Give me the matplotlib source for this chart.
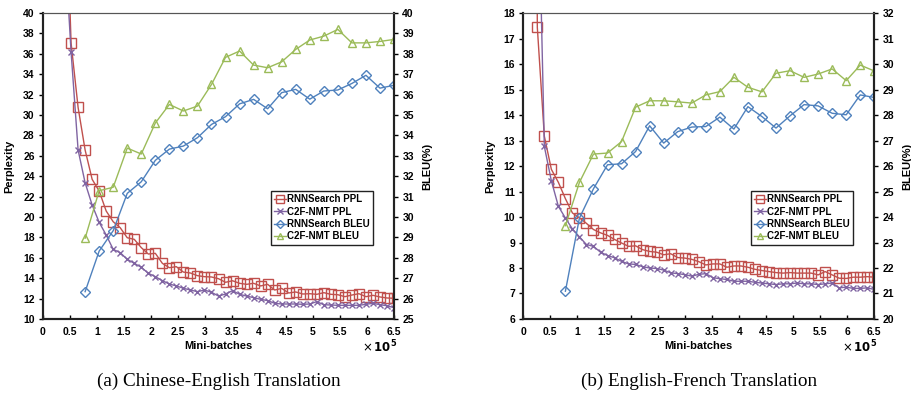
import numpy as np
import matplotlib
matplotlib.use("Agg")
import matplotlib.pyplot as plt

plt.rcParams["font.family"] = ["Liberation Sans", "DejaVu Sans"]

# checkpoints: one every 13k mini-batches (0.13 x 10^5)
step = 0.13
zh_ppl_k = list(range(3, 51))
en_ppl_k = list(range(1, 51))
bleu_k = list(range(6, 51, 2))

# (a) Chinese-English
zh_rnn_ppl = [58, 37.06, 30.75, 26.57, 23.7, 22.55, 20.59, 19.54, 18.95, 17.97, 17.81,
              17.0, 16.37, 16.44, 15.46, 15.03, 15.13, 14.6, 14.51, 14.25, 14.15,
              14.12, 13.95, 13.6, 13.75, 13.5, 13.40, 13.5, 13.24, 13.40, 12.84, 13.0,
              12.55, 12.65, 12.45, 12.48, 12.42, 12.58, 12.42, 12.38, 12.19, 12.35,
              12.48, 12.19, 12.32, 12.16, 12.06, 12.03]
zh_c2f_ppl = [48, 36.2, 26.57, 23.36, 21.18, 19.48, 18.24, 16.83, 16.5, 15.85, 15.46,
              15.07, 14.48, 14.15, 13.76, 13.43, 13.24, 13.01, 12.84, 12.68, 12.84,
              12.62, 12.25, 12.45, 12.78, 12.42, 12.25, 12.09, 11.93, 11.80, 11.54,
              11.47, 11.47, 11.47, 11.44, 11.47, 11.70, 11.40, 11.37, 11.34, 11.34,
              11.34, 11.34, 11.44, 11.54, 11.40, 11.30, 11.11]
zh_rnn_bleu = [26.34, 28.33, 29.33, 31.16, 31.73, 32.78, 33.33, 33.48, 33.89, 34.54,
               34.92, 35.55, 35.77, 35.31, 36.10, 36.26, 35.78, 36.18, 36.23, 36.55,
               36.95, 36.32, 36.46]
zh_c2f_bleu = [28.96, 31.29, 31.46, 33.38, 33.09, 34.61, 35.52, 35.20, 35.44, 36.50,
               37.83, 38.14, 37.45, 37.32, 37.61, 38.22, 38.68, 38.87, 39.20, 38.54,
               38.54, 38.61, 38.71]

# (b) English-French
en_rnn_ppl = [100, 17.44, 13.17, 11.87, 11.36, 10.72, 10.16, 9.97, 9.75, 9.51, 9.38,
              9.28, 9.12, 8.98, 8.85, 8.87, 8.72, 8.65, 8.62, 8.52, 8.56, 8.41, 8.39,
              8.34, 8.25, 8.12, 8.16, 8.16, 8.03, 8.08, 8.08, 8.03, 7.95, 7.90, 7.86,
              7.82, 7.80, 7.82, 7.80, 7.80, 7.80, 7.73, 7.86, 7.73, 7.60, 7.59, 7.64,
              7.64, 7.66, 7.64]
en_c2f_ppl = [60, 25, 12.77, 11.42, 10.42, 9.96, 9.53, 9.22, 8.92, 8.85, 8.62, 8.49,
              8.40, 8.26, 8.16, 8.14, 8.05, 8.0, 7.98, 7.92, 7.81, 7.78, 7.74, 7.68,
              7.75, 7.78, 7.62, 7.58, 7.55, 7.48, 7.48, 7.48, 7.44, 7.41, 7.38, 7.35,
              7.38, 7.38, 7.41, 7.38, 7.38, 7.35, 7.38, 7.41, 7.22, 7.25, 7.20, 7.20,
              7.22, 7.16]
en_rnn_bleu = [21.09, 23.96, 25.11, 26.05, 26.09, 26.57, 27.58, 26.90, 27.35, 27.53,
               27.55, 27.92, 27.45, 28.33, 27.94, 27.49, 27.97, 28.41, 28.36, 28.07,
               28.01, 28.79, 28.69]
en_c2f_bleu = [23.66, 25.36, 26.47, 26.51, 26.96, 28.31, 28.56, 28.56, 28.52, 28.47,
               28.79, 28.92, 29.48, 29.09, 28.91, 29.64, 29.74, 29.48, 29.61, 29.81,
               29.35, 29.96, 29.73]

series_names = ["RNNSearch PPL", "C2F-NMT PPL", "RNNSearch BLEU", "C2F-NMT BLEU"]
red, purple, blue, green = "#C0504D", "#8064A2", "#4F81BD", "#9BBB59"
xticks = [0, 0.5, 1, 1.5, 2, 2.5, 3, 3.5, 4, 4.5, 5, 5.5, 6, 6.5]
xtick_labels = ["0", "0.5", "1", "1.5", "2", "2.5", "3", "3.5", "4", "4.5", "5", "5.5", "6", "6.5"]

tick_font = dict(fontsize=7.5, fontweight="bold")
label_font = dict(fontsize=8, fontweight="bold")


def panel(rect, ppl_k, rnn_ppl, c2f_ppl, rnn_bleu, c2f_bleu, ppl_lim, ppl_ticks, bleu_lim, bleu_ticks, caption):
    ax = fig.add_axes(rect)
    ax2 = ax.twinx()
    x_ppl = np.array(ppl_k) * step
    x_bleu = np.array(bleu_k) * step

    l1, = ax.plot(x_ppl, rnn_ppl, color=red, lw=1, marker="s", ms=6.5, mfc="none", mew=1)
    l2, = ax.plot(x_ppl, c2f_ppl, color=purple, lw=1, marker="x", ms=5, mew=1)
    l3, = ax2.plot(x_bleu, rnn_bleu, color=blue, lw=1, marker="D", ms=5, mfc="none", mew=1)
    l4, = ax2.plot(x_bleu, c2f_bleu, color=green, lw=1, marker="^", ms=6, mfc="none", mew=1)

    ax.set_xlim(0, 6.5)
    ax.set_ylim(*ppl_lim)
    ax2.set_ylim(*bleu_lim)
    ax.set_xticks(xticks)
    ax.set_xticklabels(xtick_labels, **tick_font)
    ax.set_yticks(ppl_ticks)
    ax.set_yticklabels([str(t) for t in ppl_ticks], **tick_font)
    ax2.set_yticks(bleu_ticks)
    ax2.set_yticklabels([str(t) for t in bleu_ticks], **tick_font)
    ax.tick_params(axis="x", direction="in", length=3, width=1, pad=6)
    ax.tick_params(axis="y", direction="out", length=3, width=1, pad=3)
    ax2.tick_params(axis="y", direction="out", length=3, width=1, pad=3)

    for a in (ax, ax2):
        for s in ("left", "bottom", "right"):
            a.spines[s].set_linewidth(1.5)
            a.spines[s].set_color("#222222")
        a.spines["top"].set_linewidth(0.8)
        a.spines["top"].set_color("#555555")

    ax.set_ylabel("Perplexity", labelpad=6, **label_font)
    ax2.set_ylabel("BLEU(%)", labelpad=6, **label_font)
    ax.set_xlabel("Mini-batches", labelpad=3, **label_font)
    ax.text(1.01, -0.065, r"$\times\,\mathbf{10^5}$", transform=ax.transAxes,
            ha="right", va="top", fontsize=8.5)

    leg = ax2.legend([l1, l2, l3, l4], series_names, loc="upper left",
                     bbox_to_anchor=(0.635, 0.435), prop=dict(size=7, weight="bold"),
                     frameon=True, fancybox=False, edgecolor="#222222", framealpha=1,
                     handlelength=1.2, handletextpad=0.1, borderpad=0.35,
                     labelspacing=0.25, markerscale=0.8)
    leg.get_frame().set_linewidth(1)

    fig.text(rect[0] + rect[2] / 2, 0.04, caption, ha="center", va="center",
             fontsize=13.8, family=["Liberation Serif", "DejaVu Serif"])


fig = plt.figure(figsize=(9.11, 3.97), dpi=100)

panel([0.0472, 0.1965, 0.3853, 0.7705], zh_ppl_k, zh_rnn_ppl, zh_c2f_ppl, zh_rnn_bleu, zh_c2f_bleu,
      (10, 40), list(range(10, 41, 2)), (25, 40), list(range(25, 41)),
      "(a) Chinese-English Translation")
panel([0.5744, 0.1965, 0.3853, 0.7705], en_ppl_k, en_rnn_ppl, en_c2f_ppl, en_rnn_bleu, en_c2f_bleu,
      (6, 18), list(range(6, 19)), (20, 32), list(range(20, 33)),
      "(b) English-French Translation")

fig.savefig("out.png", dpi=100)
